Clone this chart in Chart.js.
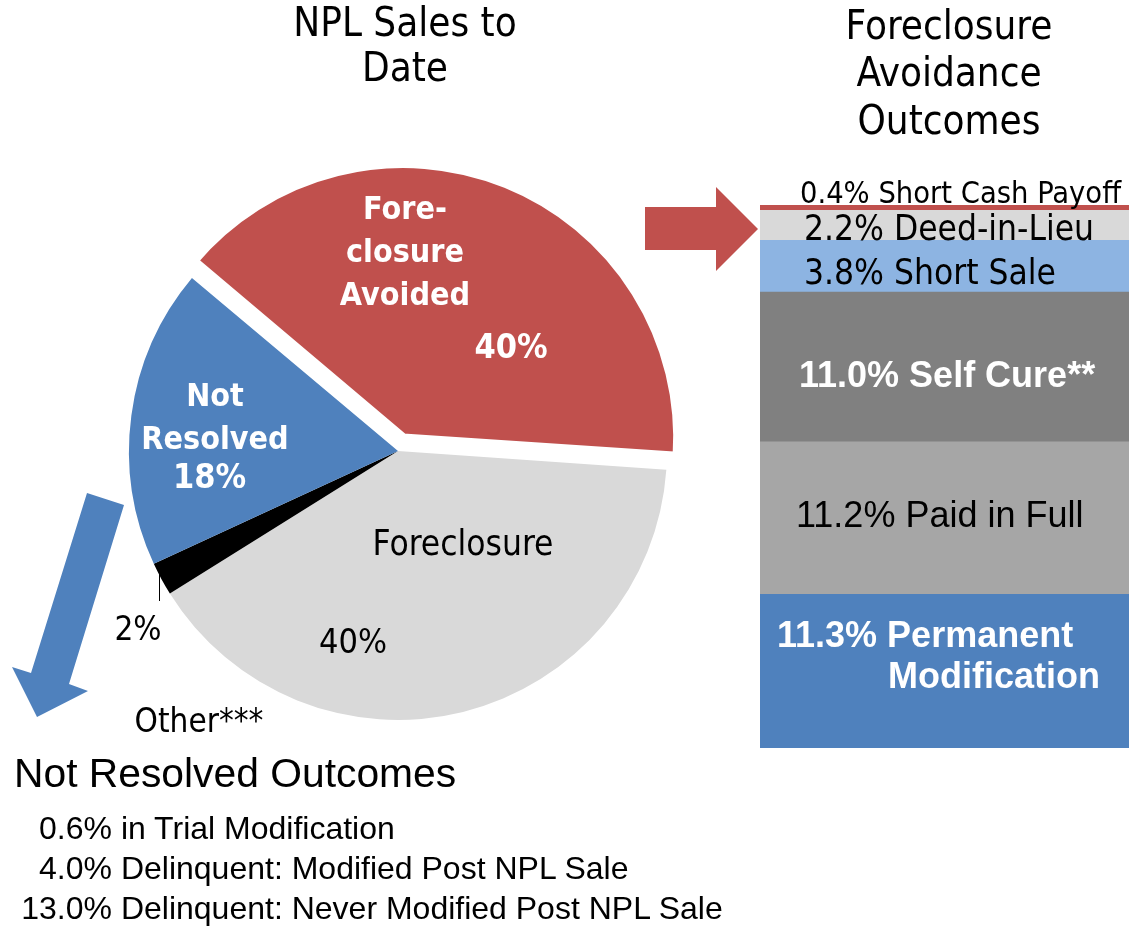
<!DOCTYPE html>
<html>
<head>
<meta charset="utf-8">
<script src="https://cdn.jsdelivr.net/npm/chart.js@4.4.1/dist/chart.umd.min.js"></script>
<style>
  body { margin: 0; width: 1129px; height: 927px; overflow: hidden; background: #fff; position: relative; }
  canvas { position: absolute; }
  #pieChart { left: 0; top: 0; }
  #barChart { left: 760px; top: 160px; }
  .title { position: absolute; width: 400px; text-align: center; color: #000;
           font-family: "DejaVu Sans Condensed", "DejaVu Sans", sans-serif; font-size: 40px; }
  #title-npl { left: 205px; top: 0px; line-height: 45px; }
  #title-fa { left: 749px; top: 1.5px; line-height: 47.5px; }
  #nr-title { position: absolute; left: 14px; top: 750px; line-height: 46px;
              font-family: "Liberation Sans", Arial, sans-serif; font-size: 40.8px; white-space: nowrap; }
  #nr-list { position: absolute; left: 20px; top: 808px;
             font-family: "Liberation Sans", Arial, sans-serif; font-size: 32px; line-height: 40px; white-space: nowrap; }
  #nr-list .num { display: inline-block; width: 92px; text-align: right; }
</style>
</head>
<body>
<canvas id="pieChart" width="1129" height="927"></canvas>
<canvas id="barChart" width="369" height="588"></canvas>
<div class="title" id="title-npl">NPL Sales to<br>Date</div>
<div class="title" id="title-fa">Foreclosure<br>Avoidance<br>Outcomes</div>
<div id="nr-title">Not Resolved Outcomes</div>
<div id="nr-list"></div>
<script>
// NPL 매각 결과 (파이)
const pieNames = ['Foreclosure Avoided', 'Foreclosure', 'Other***', 'Not Resolved'];
const pieValues = [40, 40, 2, 18];

// Foreclosure Avoidance 세부 (아래에서 위로 쌓임)
const barNames = ['Permanent Modification', 'Paid in Full', 'Self Cure**', 'Short Sale', 'Deed-in-Lieu', 'Short Cash Payoff'];
const barValues = [11.3, 11.2, 11.0, 3.8, 2.2, 0.4];

// Not Resolved 세부
const notResolvedNames = ['in Trial Modification', 'Delinquent: Modified Post NPL Sale', 'Delinquent: Never Modified Post NPL Sale'];
const notResolvedValues = [0.6, 4.0, 13.0];

const COND = '"DejaVu Sans Condensed", "DejaVu Sans", sans-serif';
const ARIAL = '"Liberation Sans", Arial, sans-serif';

const pieColors = ['#C0504D', '#D9D9D9', '#000000', '#4F81BD'];
const barColors = ['#4F81BD', '#A6A6A6', '#808080', '#8DB4E2', '#D9D9D9', '#C0504D'];

// 파이 라벨 위치 (파이 중심 기준 offset)
const pieLabelStyle = [
    { lines: ['Fore-', 'closure', 'Avoided'], at: [7, -232], font: 'bold 32px', pctAt: [113, -93], pctFont: 'bold 34px', color: '#fff' },
    { lines: ['Foreclosure'], at: [65, 104], font: '35px', pctAt: [-45, 202], pctFont: '34px', color: '#000' },
    { lines: ['Other***'], at: [-199, 281], font: '33px', pctAt: [-260, 189], pctFont: '33px', color: '#000', leader: [-239, 122, 150] },
    { lines: ['Not', 'Resolved'], at: [-183, -45], font: 'bold 32px', pctAt: [-188.5, 37], pctFont: 'bold 34px', color: '#fff' }
];

// 막대 라벨 (x: 막대 왼쪽 기준, dy: 구간 중심 기준 baseline)
const barLabelStyle = [
    { lines: [['Permanent', 17, -24], ['Modification', 128, 17]], font: 'bold 36px ' + ARIAL, color: '#fff' },
    { lines: [['Paid in Full', 36, 9]], font: '36px ' + ARIAL, color: '#000' },
    { lines: [['Self Cure**', 39, 20]], font: 'bold 36px ' + ARIAL, color: '#fff' },
    { lines: [['Short Sale', 44, 18]], font: '35px ' + COND, color: '#000' },
    { lines: [['Deed-in-Lieu', 44, 15]], font: '35px ' + COND, color: '#000' },
    { lines: [['Short Cash Payoff', 40, -5]], font: '30.5px ' + COND, color: '#000' }
];

// 화살표 도형
const arrowShapes = [
    { color: '#C0504D', pts: [[645, 207], [716, 207], [716, 187], [758, 229], [716, 271], [716, 250], [645, 250]] },
    { color: '#4F81BD', pts: [[87, 493], [124, 505], [69, 684], [88, 691], [37, 717], [12, 667], [31, 673]] }
];

const arrowPlugin = {
    id: 'arrows',
    afterDraw(chart) {
        const ctx = chart.ctx;
        ctx.save();
        arrowShapes.forEach(a => {
            ctx.fillStyle = a.color;
            ctx.beginPath();
            a.pts.forEach((p, i) => i ? ctx.lineTo(p[0], p[1]) : ctx.moveTo(p[0], p[1]));
            ctx.closePath();
            ctx.fill();
        });
        ctx.restore();
    }
};

const pieLabelPlugin = {
    id: 'pieLabels',
    afterDatasetsDraw(chart) {
        const ctx = chart.ctx;
        const arcs = chart.getDatasetMeta(0).data;
        ctx.save();
        ctx.textAlign = 'center';
        ctx.textBaseline = 'alphabetic';
        arcs.forEach((arc, i) => {
            const s = pieLabelStyle[i];
            const cx = arc.x, cy = arc.y;
            ctx.fillStyle = s.color;
            ctx.font = s.font + ' ' + COND;
            s.lines.forEach((t, k) => ctx.fillText(t, cx + s.at[0], cy + s.at[1] + k * 43));
            ctx.font = s.pctFont + ' ' + COND;
            ctx.fillText(pieValues[i] + '%', cx + s.pctAt[0], cy + s.pctAt[1]);
            if (s.leader) {
                ctx.strokeStyle = '#000';
                ctx.lineWidth = 1;
                ctx.beginPath();
                ctx.moveTo(cx + s.leader[0] + 0.5, cy + s.leader[1]);
                ctx.lineTo(cx + s.leader[0] + 0.5, cy + s.leader[2]);
                ctx.stroke();
            }
        });
        ctx.restore();
    }
};

const barLabelPlugin = {
    id: 'barLabels',
    afterDatasetsDraw(chart) {
        const ctx = chart.ctx;
        ctx.save();
        ctx.textAlign = 'left';
        ctx.textBaseline = 'alphabetic';
        chart.data.datasets.forEach((ds, i) => {
            const el = chart.getDatasetMeta(i).data[0];
            const left = el.x - el.width / 2;
            const mid = (el.y + el.base) / 2;
            const s = barLabelStyle[i];
            ctx.font = s.font;
            ctx.fillStyle = s.color;
            s.lines.forEach((ln, k) => {
                const txt = k === 0 ? barValues[i].toFixed(1) + '% ' + ln[0] : ln[0];
                ctx.fillText(txt, left + ln[1], mid + ln[2]);
            });
        });
        ctx.restore();
    }
};

new Chart(document.getElementById('pieChart'), {
    type: 'pie',
    data: {
        labels: pieNames,
        datasets: [{
            data: pieValues,
            backgroundColor: pieColors,
            // 분리된 조각: 흰 테두리로 커진 반지름을 되돌림
            borderColor: '#fff',
            borderWidth: [9.4, 0, 0, 0],
            offset: [55.5, 0, 0, 0],
            hoverOffset: 0
        }]
    },
    options: {
        responsive: false,
        animation: false,
        events: [],
        rotation: 310,
        radius: 269,
        layout: { padding: { left: 0, right: 333, top: 0, bottom: 25 } },
        plugins: { legend: { display: false }, tooltip: { enabled: false } }
    },
    plugins: [pieLabelPlugin, arrowPlugin]
});

const barTotal = barValues.reduce((a, b) => a + b, 0);

new Chart(document.getElementById('barChart'), {
    type: 'bar',
    data: {
        labels: ['Foreclosure Avoidance Outcomes'],
        datasets: barNames.map((n, i) => ({
            label: n,
            data: [barValues[i]],
            backgroundColor: barColors[i],
            borderWidth: 0,
            barPercentage: 1,
            categoryPercentage: 1
        }))
    },
    options: {
        responsive: false,
        animation: false,
        events: [],
        layout: { padding: { top: 45, left: 0, right: 0, bottom: 0 } },
        scales: {
            x: { stacked: true, display: false },
            y: { stacked: true, display: false, min: 0, max: barTotal }
        },
        plugins: { legend: { display: false }, tooltip: { enabled: false } }
    },
    plugins: [barLabelPlugin]
});

// Not Resolved 목록
const list = document.getElementById('nr-list');
notResolvedNames.forEach((n, i) => {
    const row = document.createElement('div');
    row.innerHTML = `<span class="num">${notResolvedValues[i].toFixed(1)}%</span> ${n}`;
    list.appendChild(row);
});
</script>
</body>
</html>
